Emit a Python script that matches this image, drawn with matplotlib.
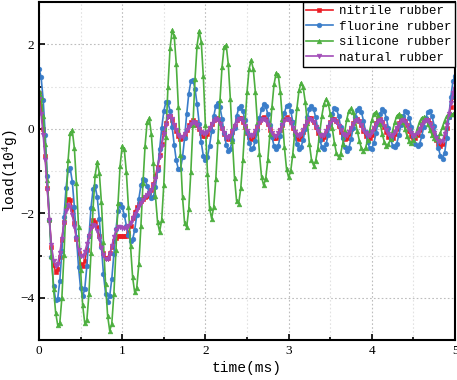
import numpy as np
import matplotlib
matplotlib.use("Agg")
import matplotlib.pyplot as plt
from matplotlib.ticker import MultipleLocator

time_ms = [round(i * 0.025, 3) for i in range(201)]

nitrile = [0.85, 0.55, 0.00, -0.65, -1.40, -2.15, -2.80, -3.22, -3.38,
           -3.31, -3.04, -2.64, -2.21, -1.86, -1.67,
           -1.68, -1.89, -2.22, -2.61, -2.95, -3.20, -3.26,
           -3.13, -2.87, -2.55, -2.29, -2.16,
           -2.20, -2.33, -2.53, -2.75, -2.95, -3.06,
           -3.05, -2.95, -2.80, -2.66, -2.58, -2.55, -2.54, -2.54, -2.55, -2.53,
           -2.46, -2.30, -2.12, -1.96, -1.86, -1.78, -1.72, -1.67, -1.62, -1.58,
           -1.53, -1.45, -1.30, -1.12, -0.90, -0.62, -0.35, -0.08, 0.14, 0.29,
           0.30, 0.21, 0.08, -0.06, -0.18, -0.24,
           -0.22, -0.15, -0.04, 0.08, 0.16, 0.20,
           0.17, 0.09, -0.01, -0.11, -0.17,
           -0.17, -0.12, -0.01, 0.11, 0.21, 0.26,
           0.24, 0.14, 0.01, -0.12, -0.22,
           -0.24, -0.18, -0.07, 0.07, 0.20, 0.26,
           0.26, 0.17, 0.04, -0.10, -0.20, -0.24,
           -0.20, -0.10, 0.03, 0.16, 0.25,
           0.27, 0.22, 0.11, -0.03, -0.15, -0.23,
           -0.23, -0.17, -0.04, 0.10, 0.22, 0.27,
           0.24, 0.15, 0.02, -0.12, -0.21,
           -0.24, -0.19, -0.07, 0.07, 0.19, 0.25,
           0.25, 0.17, 0.04, -0.10, -0.20, -0.24,
           -0.20, -0.10, 0.03, 0.16, 0.24,
           0.24, 0.18, 0.06, -0.08, -0.19, -0.24,
           -0.22, -0.13, 0.00, 0.13, 0.22,
           0.24, 0.19, 0.08, -0.05, -0.17, -0.23,
           -0.22, -0.14, 0.00, 0.14, 0.22,
           0.23, 0.17, 0.05, -0.08, -0.19, -0.24,
           -0.22, -0.13, 0.00, 0.13, 0.22,
           0.24, 0.19, 0.08, -0.05, -0.17, -0.23,
           -0.23, -0.15, -0.03, 0.10, 0.20, 0.24,
           0.21, 0.13, 0.00, -0.14, -0.26, -0.36, -0.40,
           -0.36, -0.20, 0.02, 0.28, 0.52, 0.76, 0.95]

fluorine = [1.42, 1.23, 0.69, -0.14, -1.13, -2.15, -3.04, -3.72, -4.06,
            -4.02, -3.60, -2.90, -2.10, -1.40, -0.98,
            -0.94, -1.25, -1.85, -2.57, -3.27, -3.78, -3.97,
            -3.79, -3.26, -2.55, -1.87, -1.43,
            -1.36, -1.62, -2.14, -2.80, -3.44, -3.90, -4.09,
            -3.96, -3.55, -2.97, -2.38, -1.95, -1.78,
            -1.85, -2.04, -2.29, -2.52, -2.65,
            -2.62, -2.40, -2.05, -1.66, -1.34, -1.19,
            -1.21, -1.35, -1.53, -1.64,
            -1.61, -1.38, -0.97, -0.47, 0.01, 0.42, 0.63,
            0.63, 0.42, 0.05, -0.38, -0.75, -0.96,
            -0.95, -0.68, -0.21, 0.34, 0.83, 1.12,
            1.15, 0.95, 0.58, 0.12, -0.32, -0.64, -0.75,
            -0.66, -0.40, -0.05, 0.29, 0.54,
            0.62, 0.51, 0.24, -0.10, -0.38, -0.52,
            -0.47, -0.27, 0.01, 0.29, 0.49,
            0.54, 0.43, 0.20, -0.08, -0.33, -0.47,
            -0.45, -0.29, -0.04, 0.25, 0.47, 0.58,
            0.53, 0.35, 0.08, -0.20, -0.40, -0.48,
            -0.40, -0.18, 0.11, 0.38, 0.55,
            0.57, 0.43, 0.17, -0.13, -0.37, -0.48,
            -0.43, -0.26, 0.00, 0.27, 0.47, 0.54,
            0.47, 0.27, 0.00, -0.26, -0.43,
            -0.48, -0.37, -0.15, 0.12, 0.36, 0.49,
            0.47, 0.31, 0.05, -0.23, -0.44, -0.52,
            -0.45, -0.25, 0.02, 0.28, 0.45,
            0.50, 0.40, 0.19, -0.07, -0.31, -0.46,
            -0.47, -0.34, -0.11, 0.15, 0.36, 0.46,
            0.42, 0.25, 0.01, -0.23, -0.40,
            -0.44, -0.35, -0.15, 0.09, 0.29, 0.41,
            0.40, 0.26, 0.05, -0.18, -0.35, -0.42,
            -0.36, -0.18, 0.05, 0.26, 0.40,
            0.41, 0.29, 0.07, -0.20, -0.46, -0.64, -0.71,
            -0.58, -0.22, 0.27, 0.76, 1.12, 1.25]

silicone = [0.90, 0.75, 0.31, -0.37, -1.21, -2.13, -3.02, -3.79, -4.35, -4.65,
            -4.60, -4.00, -2.98, -1.80, -0.74, -0.11,
            -0.04, -0.46, -1.29, -2.32, -3.35, -4.18, -4.60,
            -4.53, -3.92, -2.93, -1.88, -1.10, -0.79,
            -1.04, -1.74, -2.69, -3.67, -4.43, -4.78,
            -4.61, -3.91, -2.88, -1.76, -0.87, -0.41,
            -0.49, -1.03, -1.86, -2.77, -3.51, -3.87,
            -3.76, -3.20, -2.30, -1.28, -0.40, 0.16,
            0.25, -0.12, -0.81, -1.60, -2.21, -2.44,
            -2.15, -1.32, -0.19, 0.99, 1.90, 2.33,
            2.19, 1.53, 0.52, -0.61, -1.62, -2.23,
            -2.33, -1.90, -1.02, 0.09, 1.17, 1.97, 2.31,
            2.06, 1.24, 0.09, -1.06, -1.88,
            -2.13, -1.85, -1.19, -0.29, 0.67, 1.46, 1.94,
            1.98, 1.53, 0.70, -0.29, -1.17, -1.71,
            -1.77, -1.41, -0.74, 0.08, 0.86, 1.42, 1.62,
            1.42, 0.88, 0.14, -0.60, -1.14, -1.34,
            -1.18, -0.74, -0.13, 0.52, 1.05, 1.32,
            1.28, 0.88, 0.24, -0.44, -0.95, -1.15,
            -1.01, -0.61, -0.07, 0.48, 0.91, 1.09,
            0.98, 0.64, 0.14, -0.36, -0.73, -0.87,
            -0.76, -0.48, -0.09, 0.31, 0.59, 0.70,
            0.61, 0.36, 0.02, -0.33, -0.58, -0.67,
            -0.59, -0.36, -0.06, 0.23, 0.43,
            0.48, 0.39, 0.20, -0.05, -0.28, -0.46, -0.52,
            -0.45, -0.27, -0.04, 0.20, 0.36,
            0.40, 0.31, 0.12, -0.12, -0.31, -0.40,
            -0.37, -0.24, -0.05, 0.15, 0.30, 0.35,
            0.30, 0.17, -0.01, -0.18, -0.30,
            -0.33, -0.27, -0.14, 0.02, 0.17, 0.26,
            0.27, 0.22, 0.11, -0.02, -0.15, -0.23,
            -0.25, -0.20, -0.09, 0.05, 0.19, 0.30, 0.35,
            0.35, 0.35, 0.35]

natural = [0.70, 0.35, -0.15, -0.75, -1.45, -2.15, -2.75, -3.12, -3.26,
           -3.20, -2.95, -2.60, -2.22, -1.94, -1.81,
           -1.86, -2.05, -2.32, -2.61, -2.86, -3.01,
           -3.02, -2.92, -2.73, -2.53, -2.36, -2.28,
           -2.31, -2.43, -2.61, -2.82, -2.99, -3.09,
           -3.08, -2.97, -2.78, -2.56, -2.40, -2.33, -2.33, -2.35, -2.36, -2.34,
           -2.29, -2.22, -2.12, -2.02, -1.93, -1.83, -1.75, -1.68, -1.62, -1.57,
           -1.52, -1.45, -1.32, -1.20, -0.95, -0.68, -0.40, -0.13, 0.10, 0.28,
           0.30, 0.22, 0.10, -0.03, -0.14, -0.20,
           -0.19, -0.13, -0.04, 0.05, 0.12, 0.15,
           0.13, 0.08, 0.00, -0.07, -0.11,
           -0.12, -0.07, 0.02, 0.11, 0.19, 0.23,
           0.21, 0.12, 0.00, -0.11, -0.20,
           -0.22, -0.17, -0.06, 0.07, 0.18, 0.24,
           0.24, 0.17, 0.06, -0.05, -0.14, -0.17,
           -0.14, -0.06, 0.04, 0.14, 0.21,
           0.23, 0.19, 0.10, 0.00, -0.10, -0.16,
           -0.17, -0.11, -0.02, 0.09, 0.18, 0.22,
           0.20, 0.13, 0.02, -0.08, -0.15,
           -0.17, -0.13, -0.04, 0.07, 0.16, 0.22,
           0.21, 0.15, 0.05, -0.06, -0.14, -0.17,
           -0.14, -0.06, 0.04, 0.14, 0.20,
           0.21, 0.16, 0.07, -0.04, -0.12, -0.16,
           -0.14, -0.08, 0.02, 0.12, 0.18,
           0.20, 0.16, 0.08, -0.02, -0.11, -0.16,
           -0.15, -0.08, 0.02, 0.12, 0.19,
           0.20, 0.15, 0.06, -0.04, -0.12, -0.16,
           -0.14, -0.08, 0.02, 0.12, 0.18,
           0.20, 0.16, 0.08, -0.02, -0.11, -0.16,
           -0.15, -0.09, 0.00, 0.10, 0.17, 0.20,
           0.18, 0.11, 0.01, -0.10, -0.21, -0.29, -0.32,
           -0.28, -0.12, 0.08, 0.35, 0.60, 0.85, 1.05]

labels = ["nitrile rubber", "fluorine rubber", "silicone rubber", "natural rubber"]
colors = ["#ec1c24", "#3a7dc9", "#4daf3f", "#a24cb8"]
markers = ["s", "o", "^", "v"]
x_ticks = [0, 1, 2, 3, 4, 5]
y_ticks = [-4, -2, 0, 2]

mono = ["Liberation Mono", "DejaVu Sans Mono"]
serif = ["Liberation Serif", "DejaVu Serif"]
plt.rcParams["mathtext.fontset"] = "custom"
plt.rcParams["mathtext.rm"] = "Liberation Serif"
plt.rcParams["mathtext.it"] = "Liberation Serif"

fig = plt.figure(figsize=(4.57, 3.80), dpi=100)
ax = fig.add_axes([39 / 457, 40 / 380, 416 / 457, 338 / 380])

for ys, lab, c, m in zip([nitrile, fluorine, silicone, natural], labels, colors, markers):
    ax.plot(time_ms, ys, color=c, marker=m, markersize=3.4, linewidth=1.2,
            markeredgewidth=0.4, label=lab)

ax.set_xlim(0, 5)
ax.set_ylim(-5, 3)
ax.set_xticks(x_ticks)
ax.set_yticks(y_ticks)
ax.xaxis.set_minor_locator(MultipleLocator(0.5))
ax.yaxis.set_minor_locator(MultipleLocator(1))
ax.tick_params(which="both", direction="in", width=1.2, colors="black")
ax.tick_params(which="major", length=4, labelsize=9.5)
ax.tick_params(which="minor", length=2.5)
for lbl in ax.get_xticklabels() + ax.get_yticklabels():
    lbl.set_family(serif)

ax.grid(True, which="major", color="#bdbdbd", linestyle=(0, (1.5, 2)), linewidth=0.8)
ax.grid(True, which="minor", color="#e2e2e2", linestyle=(0, (1.5, 2)), linewidth=0.8)
ax.set_axisbelow(True)
for sp in ax.spines.values():
    sp.set_linewidth(1.5)
    sp.set_color("black")

ax.set_xlabel("time(ms)", family=mono, fontsize=10.5, labelpad=3)
ax.set_ylabel("load(10$^{4}$g)", family=mono, fontsize=10.5)
ax.yaxis.set_label_coords(-0.045, 0.5)

leg = ax.legend(loc="upper right", prop={"family": mono, "size": 9},
                frameon=True, fancybox=False, borderaxespad=0.0,
                handlelength=2.2, handletextpad=0.5, labelspacing=0.28,
                borderpad=0.25, framealpha=1.0)
leg.get_frame().set_edgecolor("black")
leg.get_frame().set_linewidth(1.0)

fig.savefig("out.png", dpi=100)
